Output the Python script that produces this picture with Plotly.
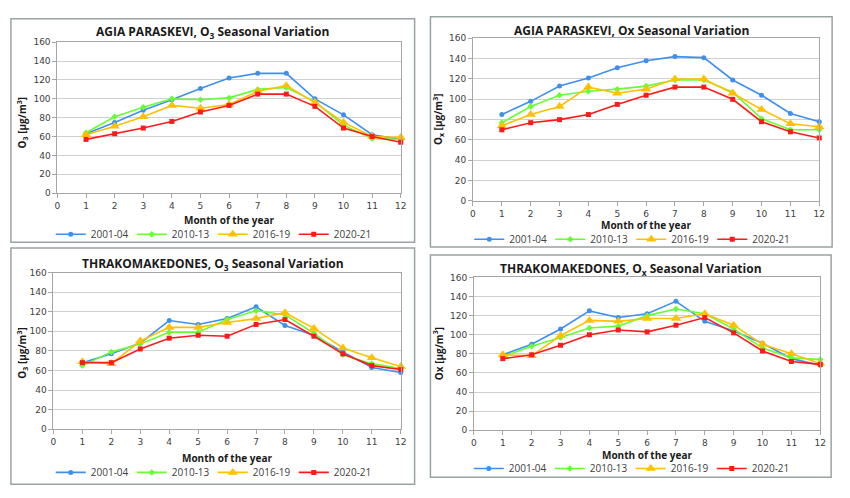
import plotly.graph_objects as go

months = list(range(1, 13))
periods = ['2001-04', '2010-13', '2016-19', '2020-21']

# AGIA PARASKEVI, O3
ap_o3_0104 = [63, 75, 88, 99, 111, 122, 127, 127, 100, 83, 62, 57]
ap_o3_1013 = [64, 81, 91, 100, 99, 101, 110, 112, 97, 72, 58, 57]
ap_o3_1619 = [62, 71, 81, 93, 90, 94, 108, 114, 96, 75, 60, 59]
ap_o3_2021 = [57, 63, 69, 76, 86, 93, 105, 105, 92, 69, 60, 54]

# AGIA PARASKEVI, Ox
ap_ox_0104 = [85, 98, 113, 121, 131, 138, 142, 141, 119, 104, 86, 78]
ap_ox_1013 = [77, 93, 104, 108, 110, 113, 119, 119, 107, 81, 70, 70]
ap_ox_1619 = [74, 85, 93, 112, 106, 110, 120, 120, 106, 90, 76, 73]
ap_ox_2021 = [70, 77, 80, 85, 95, 104, 112, 112, 100, 78, 68, 62]

# THRAKOMAKEDONES, O3
th_o3_0104 = [68, 77, 88, 111, 107, 113, 125, 106, 96, 79, 63, 58]
th_o3_1013 = [65, 79, 87, 99, 99, 112, 121, 117, 98, 76, 67, 62]
th_o3_1619 = [69, 67, 90, 104, 104, 109, 113, 119, 103, 83, 73, 64]
th_o3_2021 = [68, 68, 82, 93, 96, 95, 107, 112, 95, 77, 65, 61]

# THRAKOMAKEDONES, Ox
th_ox_0104 = [79, 90, 106, 125, 118, 122, 135, 114, 104, 91, 75, 68]
th_ox_1013 = [77, 88, 97, 107, 109, 120, 127, 122, 106, 86, 76, 74]
th_ox_1619 = [79, 78, 99, 115, 114, 117, 117, 122, 110, 90, 80, 70]
th_ox_2021 = [75, 79, 89, 100, 105, 103, 110, 118, 102, 83, 72, 69]

W, H = 850, 498

colors = ['#3f8ff0', '#66ff33', '#ffc000', '#ff1a1a']
symbols = ['circle', 'diamond', 'triangle-up', 'square']
msizes = [5, 5, 9, 5]

# (series, title, y title, plot box px [x0, x1, ytop, ybottom], frame px, title y, xtitle y, legend y, ytitle x, ytitle y)
panels = [
    ([ap_o3_0104, ap_o3_1013, ap_o3_1619, ap_o3_2021],
     'AGIA PARASKEVI, O<sub>3</sub> Seasonal Variation', 'O<sub>3</sub> [μg/m<sup>3</sup>]',
     (55, 402, 38, 192), (8, 14, 416, 242), 28, 219, 234, 20, 120),
    ([ap_ox_0104, ap_ox_1013, ap_ox_1619, ap_ox_2021],
     'AGIA PARASKEVI, Ox Seasonal Variation', 'O<sub>x</sub> [μg/m<sup>3</sup>]',
     (475, 825, 34, 200), (432, 12, 838, 247), 26, 225, 239, 440, 117),
    ([th_o3_0104, th_o3_1013, th_o3_1619, th_o3_2021],
     'THRAKOMAKEDONES, O<sub>3</sub> Seasonal Variation', 'O<sub>3</sub> [μg/m<sup>3</sup>]',
     (51, 402, 273, 433), (8, 248, 416, 489), 264, 462, 477, 20, 355),
    ([th_ox_0104, th_ox_1013, th_ox_1619, th_ox_2021],
     'THRAKOMAKEDONES, O<sub>x</sub> Seasonal Variation', 'Ox [μg/m<sup>3</sup>]',
     (476, 826, 278, 434), (432, 255, 837, 482), 269, 459, 473, 440, 356),
]

fig = go.Figure()
annotations = []
shapes = []
layout = {}

for i, (series, title, ytitle, box, frame, ty, xty, ly, ytx, yty) in enumerate(panels):
    n = '' if i == 0 else str(i + 1)
    leg = 'legend' + n
    for j, vals in enumerate(series):
        fig.add_trace(go.Scatter(
            x=months, y=vals, name=periods[j], mode='lines+markers',
            line=dict(color=colors[j], width=1.6),
            marker=dict(symbol=symbols[j], size=msizes[j], color=colors[j]),
            xaxis='x' + n, yaxis='y' + n, legend=leg, cliponaxis=False,
        ))
    x0, x1, yt, yb = box
    layout['xaxis' + n] = dict(
        domain=[x0 / W, x1 / W], anchor='y' + n, range=[0, 12], dtick=1, tick0=0,
        showgrid=False, zeroline=False, showline=True, mirror=True,
        linecolor='#a6a6a6', ticks='outside', ticklen=4, tickcolor='#a6a6a6',
        tickfont=dict(family='DejaVu Sans', size=9, color='#404040'),
    )
    layout['yaxis' + n] = dict(
        domain=[1 - yb / H, 1 - yt / H], anchor='x' + n, range=[0, 160], dtick=20,
        showgrid=True, gridcolor='#d0d0d0', zeroline=False, showline=True, mirror=True,
        linecolor='#a6a6a6', ticks='outside', ticklen=4, tickcolor='#a6a6a6',
        tickfont=dict(family='DejaVu Sans', size=9, color='#404040'),
    )
    fx0, fy0, fx1, fy1 = frame
    cx = (fx0 + fx1) / 2 / W
    shapes.append(dict(type='rect', xref='paper', yref='paper',
                       x0=fx0 / W, x1=fx1 / W, y0=1 - fy1 / H, y1=1 - fy0 / H,
                       line=dict(color='#9aa3a3', width=1.5)))
    annotations.append(dict(text='<b>' + title + '</b>', x=cx, y=1 - ty / H,
                            xref='paper', yref='paper', showarrow=False,
                            xanchor='center', yanchor='middle',
                            font=dict(family='Open Sans', size=12, color='#1a1a1a')))
    annotations.append(dict(text='<b>Month of the year</b>', x=(x0 + x1) / 2 / W, y=1 - xty / H,
                            xref='paper', yref='paper', showarrow=False,
                            xanchor='center', yanchor='middle',
                            font=dict(family='Open Sans', size=10, color='#1a1a1a')))
    annotations.append(dict(text='<b>' + ytitle + '</b>', x=ytx / W, y=1 - yty / H,
                            xref='paper', yref='paper', showarrow=False, textangle=-90,
                            xanchor='center', yanchor='middle',
                            font=dict(family='Open Sans', size=10, color='#1a1a1a')))
    layout[leg] = dict(orientation='h', x=cx, y=1 - ly / H, xanchor='center', yanchor='middle',
                       entrywidth=36, entrywidthmode='pixels', tracegroupgap=0,
                       font=dict(family='Open Sans', size=10, color='#404040'),
                       bgcolor='rgba(0,0,0,0)')

fig.update_layout(
    width=W, height=H, margin=dict(l=0, r=0, t=0, b=0),
    paper_bgcolor='white', plot_bgcolor='white',
    annotations=annotations, shapes=shapes, **layout,
)

# drop the page's default body margin so the figure sits at the window's corner
fig.write_html("out.html", config={'displayModeBar': False},
               post_script="document.body.style.margin='0';")
